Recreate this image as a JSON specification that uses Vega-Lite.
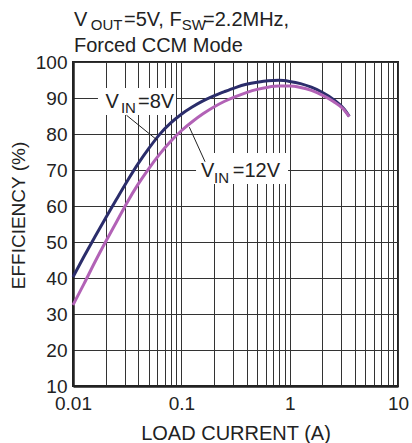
{
  "$schema": "https://vega.github.io/schema/vega-lite/v6.json",
  "width": 325,
  "height": 324,
  "autosize": {"type": "none"},
  "padding": {"left": 73, "top": 62, "right": 14, "bottom": 57},
  "config": {
    "font": "Liberation Sans",
    "view": {"stroke": "#222222", "strokeWidth": 2},
    "axis": {"labelColor": "#222222", "titleColor": "#222222", "titleFontWeight": "normal", "gridColor": "#333333", "gridWidth": 1, "gridOpacity": 1, "domainColor": "#222222", "domainWidth": 2.5, "ticks": false, "labelOverlap": false}
  },
  "datasets": {
    "curves": [
      {"x": 0.01, "y": 40.3, "series": "8V"},
      {"x": 0.01259, "y": 45.9, "series": "8V"},
      {"x": 0.01585, "y": 51.3, "series": "8V"},
      {"x": 0.01995, "y": 56.6, "series": "8V"},
      {"x": 0.02512, "y": 61.8, "series": "8V"},
      {"x": 0.03162, "y": 66.9, "series": "8V"},
      {"x": 0.03981, "y": 71.7, "series": "8V"},
      {"x": 0.05012, "y": 76.0, "series": "8V"},
      {"x": 0.0631, "y": 79.9, "series": "8V"},
      {"x": 0.07943, "y": 83.0, "series": "8V"},
      {"x": 0.1, "y": 85.5, "series": "8V"},
      {"x": 0.1259, "y": 87.5, "series": "8V"},
      {"x": 0.1585, "y": 89.2, "series": "8V"},
      {"x": 0.1995, "y": 90.6, "series": "8V"},
      {"x": 0.2512, "y": 91.8, "series": "8V"},
      {"x": 0.3162, "y": 92.9, "series": "8V"},
      {"x": 0.3981, "y": 93.8, "series": "8V"},
      {"x": 0.5012, "y": 94.4, "series": "8V"},
      {"x": 0.631, "y": 94.8, "series": "8V"},
      {"x": 0.7943, "y": 94.9, "series": "8V"},
      {"x": 1.0, "y": 94.6, "series": "8V"},
      {"x": 1.259, "y": 94.0, "series": "8V"},
      {"x": 1.585, "y": 93.0, "series": "8V"},
      {"x": 1.995, "y": 91.6, "series": "8V"},
      {"x": 2.512, "y": 89.7, "series": "8V"},
      {"x": 3.162, "y": 87.0, "series": "8V"},
      {"x": 3.548, "y": 84.9, "series": "8V"},
      {"x": 0.01, "y": 32.5, "series": "12V"},
      {"x": 0.01259, "y": 38.3, "series": "12V"},
      {"x": 0.01585, "y": 44.3, "series": "12V"},
      {"x": 0.01995, "y": 50.0, "series": "12V"},
      {"x": 0.02512, "y": 55.5, "series": "12V"},
      {"x": 0.03162, "y": 61.0, "series": "12V"},
      {"x": 0.03981, "y": 66.0, "series": "12V"},
      {"x": 0.05012, "y": 70.4, "series": "12V"},
      {"x": 0.0631, "y": 74.4, "series": "12V"},
      {"x": 0.07943, "y": 77.9, "series": "12V"},
      {"x": 0.1, "y": 80.9, "series": "12V"},
      {"x": 0.1259, "y": 83.4, "series": "12V"},
      {"x": 0.1585, "y": 85.6, "series": "12V"},
      {"x": 0.1995, "y": 87.5, "series": "12V"},
      {"x": 0.2512, "y": 89.1, "series": "12V"},
      {"x": 0.3162, "y": 90.4, "series": "12V"},
      {"x": 0.3981, "y": 91.5, "series": "12V"},
      {"x": 0.5012, "y": 92.4, "series": "12V"},
      {"x": 0.631, "y": 93.0, "series": "12V"},
      {"x": 0.7943, "y": 93.3, "series": "12V"},
      {"x": 1.0, "y": 93.3, "series": "12V"},
      {"x": 1.259, "y": 92.9, "series": "12V"},
      {"x": 1.585, "y": 92.1, "series": "12V"},
      {"x": 1.995, "y": 90.8, "series": "12V"},
      {"x": 2.512, "y": 89.1, "series": "12V"},
      {"x": 3.162, "y": 86.8, "series": "12V"},
      {"x": 3.548, "y": 84.8, "series": "12V"}
    ],
    "boxes": [
      {"x": 0.017, "x2": 0.0893, "y": 92.8, "y2": 85.3},
      {"x": 0.1367, "x2": 0.966, "y": 74.7, "y2": 66.1}
    ],
    "leaders": [
      {"x": 0.0312, "x2": 0.0593, "y": 85.2, "y2": 78.4},
      {"x": 0.1186, "x2": 0.1655, "y": 81.9, "y2": 72.3}
    ],
    "mainText": [
      {"x": 0.0102, "y": 110.0, "t": "V"},
      {"x": 0.02957, "y": 110.0, "t": "=5V, F"},
      {"x": 0.1586, "y": 110.0, "t": "=2.2MHz,"},
      {"x": 0.0102, "y": 102.86, "t": "Forced CCM Mode"},
      {"x": 0.02, "y": 87.2, "t": "V"},
      {"x": 0.0398, "y": 87.2, "t": "=8V"},
      {"x": 0.152, "y": 68.1, "t": "V"},
      {"x": 0.2983, "y": 68.1, "t": "=12V"}
    ],
    "subText": [
      {"x": 0.01457, "y": 108.9, "t": "OUT"},
      {"x": 0.1009, "y": 108.9, "t": "SW"},
      {"x": 0.0277, "y": 85.8, "t": "IN"},
      {"x": 0.2004, "y": 66.4, "t": "IN"}
    ]
  },
  "encoding": {
    "x": {
      "field": "x", "type": "quantitative",
      "scale": {"type": "log", "domain": [0.01, 10], "nice": false},
      "axis": {
        "title": "LOAD CURRENT (A)",
        "values": [0.01, 0.02, 0.03, 0.04, 0.05, 0.06, 0.07, 0.08, 0.09, 0.1, 0.2, 0.3, 0.4, 0.5, 0.6, 0.7, 0.8, 0.9, 1, 2, 3, 4, 5, 6, 7, 8, 9, 10],
        "labelExpr": "datum.value == 0.01 ? '0.01' : datum.value == 0.1 ? '0.1' : datum.value == 1 ? '1' : datum.value == 10 ? '10' : ''",
        "labelOverlap": false,
        "labelFlush": false,
        "labelFontSize": 19,
        "labelPadding": 8,
        "titleFontSize": 20,
        "titlePadding": 10,
        "grid": true,
        "encode": {"labels": {"update": {"dx": {"signal": "datum.value == 0.01 ? -5 : 0"}}}}
      }
    },
    "y": {
      "field": "y", "type": "quantitative",
      "scale": {"domain": [10, 100], "nice": false, "zero": false},
      "axis": {
        "title": "EFFICIENCY (%)",
        "values": [10, 20, 30, 40, 50, 60, 70, 80, 90, 100],
        "labelOverlap": false,
        "labelFontSize": 19,
        "labelPadding": 6,
        "titleFontSize": 19,
        "titleAngle": -90,
        "titleX": -49,
        "titleY": 153,
        "titleAlign": "center",
        "titleBaseline": "alphabetic",
        "grid": true
      }
    }
  },
  "layer": [
    {
      "data": {"name": "curves"},
      "mark": {"type": "line", "strokeWidth": 3, "interpolate": "monotone", "strokeCap": "butt"},
      "encoding": {
        "color": {
          "field": "series", "type": "nominal",
          "scale": {"domain": ["8V", "12V"], "range": ["#2b2d6b", "#b262b6"]},
          "legend": null
        }
      }
    },
    {
      "data": {"name": "boxes"},
      "mark": {"type": "rect", "fill": "white"},
      "encoding": {
        "x2": {"field": "x2"},
        "y2": {"field": "y2"}
      }
    },
    {
      "data": {"name": "leaders"},
      "mark": {"type": "rule", "stroke": "#222222", "strokeWidth": 1},
      "encoding": {
        "x2": {"field": "x2"},
        "y2": {"field": "y2"}
      }
    },
    {
      "data": {"name": "mainText"},
      "mark": {"type": "text", "fontSize": 20, "align": "left", "baseline": "alphabetic", "fill": "#222222"},
      "encoding": {
        "text": {"field": "t"}
      }
    },
    {
      "data": {"name": "subText"},
      "mark": {"type": "text", "fontSize": 15, "align": "left", "baseline": "alphabetic", "fill": "#222222"},
      "encoding": {
        "text": {"field": "t"}
      }
    }
  ]
}
